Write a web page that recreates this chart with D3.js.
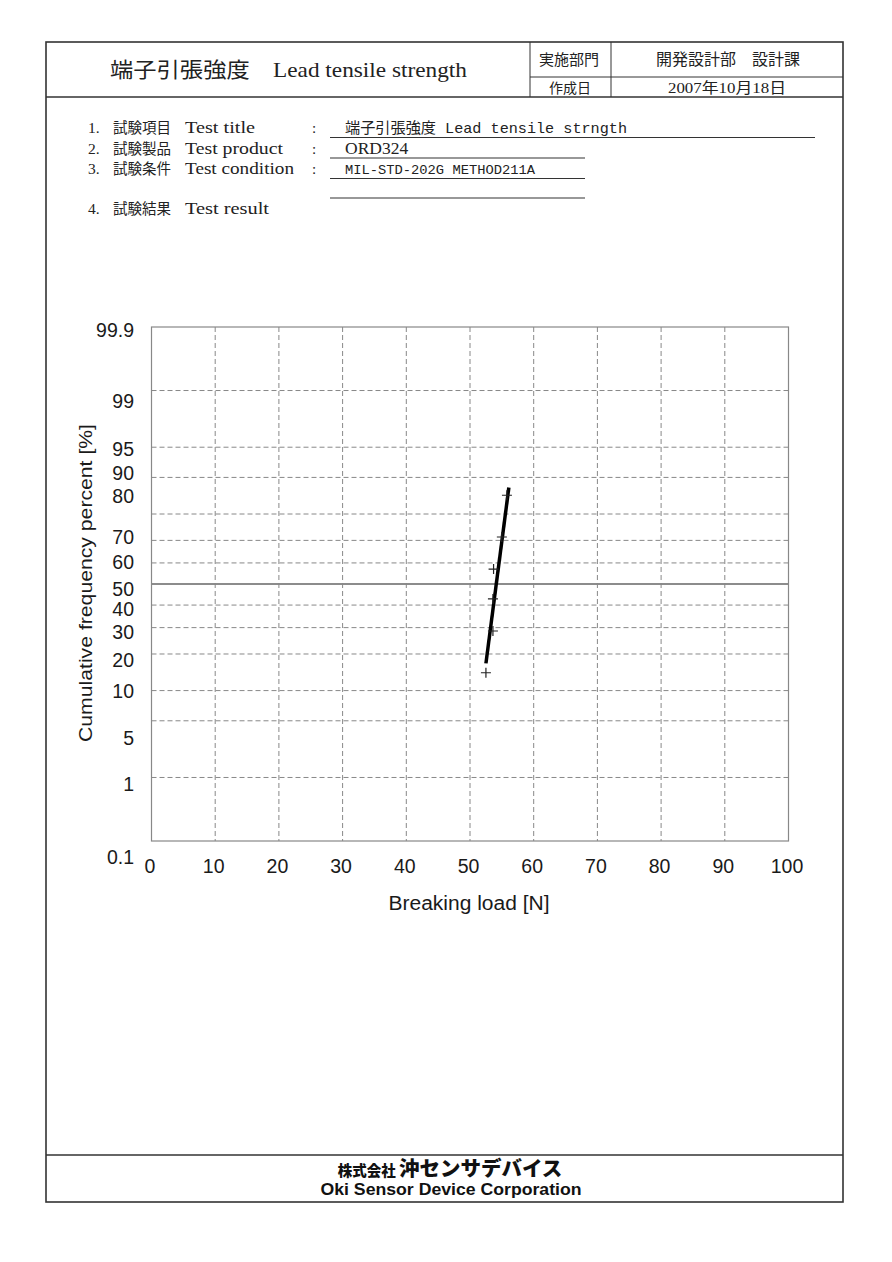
<!DOCTYPE html>
<html>
<head>
<meta charset="utf-8">
<script src="https://cdn.jsdelivr.net/npm/d3@7"></script>
<style>
  html, body { margin: 0; padding: 0; background: #fff; }
  svg { display: block; }
  .serif { font-family: "Liberation Serif", "DejaVu Serif", "Noto Sans CJK JP", serif; fill: #222; }
  .sans { font-family: "Liberation Sans", Arial, "Noto Sans CJK JP", sans-serif; fill: #1a1a1a; }
  .mono { font-family: "Liberation Mono", "DejaVu Sans Mono", "Noto Sans CJK JP", monospace; fill: #222; }
</style>
</head>
<body>
<svg id="sheet" width="892" height="1262"></svg>
<script>
// ---- data ----
const breakingLoad = [52.5, 53.6, 53.6, 53.7, 55.0, 55.8];        // N
const cumPercent = [14.3, 28.6, 42.9, 57.1, 71.4, 85.7];           // %
const fitLoad = [52.5, 56.1];
const fitPercent = [17.0, 87.7];

const xTicks = [0, 10, 20, 30, 40, 50, 60, 70, 80, 90, 100];
const yTicks = [0.1, 1, 5, 10, 20, 30, 40, 50, 60, 70, 80, 90, 95, 99, 99.9];
// labels in the original sheet sit a little off their grid lines
const yLabelNudge = [16, 7, 17, 0, 6, 4, 4, 5, -1, -3, -18, -4, 2, 10, 3];

const infoNo = ["1.", "2.", "3.", "4."];
const infoJp = ["試験項目", "試験製品", "試験条件", "試験結果"];
const infoEn = ["Test title", "Test product", "Test condition", "Test result"];
const infoEnWidth = [70, 98, 109, 84];
const infoValue = ["端子引張強度  Lead tensile strngth", "ORD324", "MIL-STD-202G METHOD211A"];

// inverse standard normal cdf (Acklam)
function probit(p) {
  const a = [-39.69683028665376, 220.9460984245205, -275.9285104469687, 138.3577518672690, -30.66479806614716, 2.506628277459239];
  const b = [-54.47609879822406, 161.5858368580409, -155.6989798598866, 66.80131188771972, -13.28068155922803];
  const c = [-0.007784894002430293, -0.3223964580411365, -2.400758277161838, -2.549671475806895, 4.374664141464968, 2.938163982698783];
  const d = [0.007784695709041462, 0.3224671290700398, 2.445134137142996, 3.754408661907416];
  const lo = 0.02425;
  if (p < lo) {
    const q = Math.sqrt(-2 * Math.log(p));
    return (((((c[0]*q+c[1])*q+c[2])*q+c[3])*q+c[4])*q+c[5]) / ((((d[0]*q+d[1])*q+d[2])*q+d[3])*q+1);
  }
  if (p > 1 - lo) {
    const q = Math.sqrt(-2 * Math.log(1 - p));
    return -(((((c[0]*q+c[1])*q+c[2])*q+c[3])*q+c[4])*q+c[5]) / ((((d[0]*q+d[1])*q+d[2])*q+d[3])*q+1);
  }
  const q = p - 0.5, r = q * q;
  return (((((a[0]*r+a[1])*r+a[2])*r+a[3])*r+a[4])*r+a[5])*q / (((((b[0]*r+b[1])*r+b[2])*r+b[3])*r+b[4])*r+1);
}

const svg = d3.select("svg#sheet");
svg.append("rect").attr("width", 892).attr("height", 1262).attr("fill", "#fff");

// ---- sheet frame ----
const frame = svg.append("g").attr("stroke", "#333").attr("fill", "none");
frame.append("rect").attr("x", 46).attr("y", 42).attr("width", 797).attr("height", 1160).attr("stroke-width", 1.6);
frame.append("line").attr("x1", 46).attr("x2", 843).attr("y1", 97).attr("y2", 97).attr("stroke-width", 1.4);
frame.append("line").attr("x1", 46).attr("x2", 843).attr("y1", 1155).attr("y2", 1155).attr("stroke-width", 1.4);
frame.append("line").attr("x1", 530).attr("x2", 530).attr("y1", 42).attr("y2", 97);
frame.append("line").attr("x1", 611).attr("x2", 611).attr("y1", 42).attr("y2", 97);
frame.append("line").attr("x1", 530).attr("x2", 843).attr("y1", 77).attr("y2", 77);

svg.append("text").attr("class", "serif").attr("x", 110).attr("y", 77)
  .style("font-size", "21px").attr("textLength", 357).attr("lengthAdjust", "spacingAndGlyphs")
  .text("端子引張強度\u3000Lead tensile strength");
svg.append("text").attr("class", "serif").attr("x", 569).attr("y", 65)
  .attr("text-anchor", "middle").style("font-size", "15px").text("実施部門");
svg.append("text").attr("class", "serif").attr("x", 728).attr("y", 65)
  .attr("text-anchor", "middle").style("font-size", "16px").text("開発設計部\u3000設計課");
svg.append("text").attr("class", "serif").attr("x", 570).attr("y", 93)
  .attr("text-anchor", "middle").style("font-size", "14px").text("作成日");
svg.append("text").attr("class", "serif").attr("x", 668).attr("y", 93)
  .style("font-size", "15px").attr("textLength", 118).attr("lengthAdjust", "spacingAndGlyphs")
  .text("2007年10月18日");

// ---- test info ----
const info = svg.append("g");
const rowBase = [133, 153.5, 174, 214];
infoNo.forEach((no, i) => {
  const yb = rowBase[i];
  info.append("text").attr("class", "serif").attr("x", 88).attr("y", yb).style("font-size", "15.5px").text(no);
  info.append("text").attr("class", "serif").attr("x", 113).attr("y", yb).style("font-size", "14.5px").text(infoJp[i]);
  info.append("text").attr("class", "serif").attr("x", 185).attr("y", yb).style("font-size", "16px")
    .attr("textLength", infoEnWidth[i]).attr("lengthAdjust", "spacingAndGlyphs").text(infoEn[i]);
  if (i > 2) return;
  info.append("text").attr("class", "serif").attr("x", 312).attr("y", yb).style("font-size", "15px").text(":");
  const v = info.append("text").attr("x", 345).attr("y", yb);
  if (i === 0) v.attr("class", "mono").style("font-size", "15px").attr("textLength", 282).attr("lengthAdjust", "spacingAndGlyphs");
  if (i === 1) v.attr("class", "serif").style("font-size", "17.5px");
  if (i === 2) v.attr("class", "mono").style("font-size", "12px").attr("textLength", 190).attr("lengthAdjust", "spacingAndGlyphs");
  v.text(infoValue[i]);
  info.append("line").attr("x1", 330).attr("x2", i === 0 ? 815 : 585)
    .attr("y1", yb + 4.5).attr("y2", yb + 4.5).attr("stroke", "#333").attr("stroke-width", 1.2);
});
info.append("line").attr("x1", 330).attr("x2", 585).attr("y1", 198).attr("y2", 198)
  .attr("stroke", "#333").attr("stroke-width", 1.2);

// ---- probability plot ----
const x = d3.scaleLinear().domain([0, 100]).range([151.5, 788.5]);
const zMax = probit(0.999);
const z = d3.scaleLinear().domain([-zMax, zMax]).range([841, 327]);
const y = (p) => z(probit(p / 100));

const plot = svg.append("g");
plot.append("g").selectAll("line")
  .data(yTicks.filter((t) => t > 0.1 && t < 99.9))
  .join("line")
  .attr("x1", x(0)).attr("x2", x(100))
  .attr("y1", (t) => y(t)).attr("y2", (t) => y(t))
  .attr("stroke", (t) => (t === 50 ? "#666" : "#888"))
  .attr("stroke-width", (t) => (t === 50 ? 1.3 : 1))
  .attr("stroke-dasharray", (t) => (t === 50 ? null : "5,3"));

plot.append("g").selectAll("line")
  .data(xTicks.filter((t) => t > 0 && t < 100))
  .join("line")
  .attr("x1", (t) => x(t)).attr("x2", (t) => x(t))
  .attr("y1", z.range()[1]).attr("y2", z.range()[0])
  .attr("stroke", "#888").attr("stroke-dasharray", "5,3");

plot.append("rect")
  .attr("x", x(0)).attr("y", z.range()[1])
  .attr("width", x(100) - x(0)).attr("height", z.range()[0] - z.range()[1])
  .attr("fill", "none").attr("stroke", "#888").attr("stroke-width", 1.2);

// y tick labels
plot.append("g").selectAll("text")
  .data(yTicks)
  .join("text")
  .attr("class", "sans")
  .attr("x", 134)
  .attr("y", (t, i) => y(t) + yLabelNudge[i])
  .attr("dy", "0.36em")
  .attr("text-anchor", "end")
  .style("font-size", "19.5px")
  .text((t) => t);

// x axis labels
const xAxis = plot.append("g")
  .attr("transform", `translate(-2,${z.range()[0]})`)
  .call(d3.axisBottom(x).tickValues(xTicks).tickSize(0).tickPadding(18).tickFormat(d3.format("d")));
xAxis.select(".domain").remove();
xAxis.selectAll("text").attr("class", "sans").style("font-size", "19.5px")
  .style("font-family", "'Liberation Sans', Arial, sans-serif").attr("fill", "#1a1a1a");

plot.append("text").attr("class", "sans")
  .attr("x", 469).attr("y", 910).attr("text-anchor", "middle")
  .style("font-size", "19.5px").attr("textLength", 161).attr("lengthAdjust", "spacingAndGlyphs")
  .text("Breaking load [N]");

plot.append("text").attr("class", "sans")
  .attr("transform", "translate(92,583) rotate(-90)")
  .attr("text-anchor", "middle")
  .style("font-size", "19px").attr("textLength", 318).attr("lengthAdjust", "spacingAndGlyphs")
  .text("Cumulative frequency percent [%]");

// fitted line
plot.append("path")
  .datum(d3.zip(fitLoad, fitPercent))
  .attr("d", d3.line().x((d) => x(d[0])).y((d) => y(d[1])))
  .attr("stroke", "#000").attr("stroke-width", 3.5).attr("fill", "none");

// measured points
const pts = d3.zip(breakingLoad, cumPercent);
plot.append("g").selectAll("path")
  .data(pts)
  .join("path")
  .attr("d", (d) => {
    const cx = x(d[0]), cy = y(d[1]);
    return `M${cx - 5},${cy}H${cx + 5}M${cx},${cy - 5}V${cy + 5}`;
  })
  .attr("stroke", "#222").attr("stroke-width", 1.2).attr("fill", "none");

// ---- footer ----
const foot = svg.append("g");
const jp = foot.append("text").attr("x", 450).attr("y", 1176).attr("text-anchor", "middle")
  .style("font-family", "'Noto Sans CJK JP', sans-serif").style("font-weight", "900").attr("fill", "#111");
jp.append("tspan").style("font-size", "14.5px").text("株式会社 ");
jp.append("tspan").style("font-size", "20.5px").text("沖センサデバイス");
foot.append("text").attr("x", 451).attr("y", 1195).attr("text-anchor", "middle")
  .style("font-family", "'Liberation Sans', Arial, sans-serif").style("font-weight", "bold")
  .style("font-size", "16.5px").attr("fill", "#111")
  .attr("textLength", 261).attr("lengthAdjust", "spacingAndGlyphs")
  .text("Oki Sensor Device Corporation");
</script>
</body>
</html>
